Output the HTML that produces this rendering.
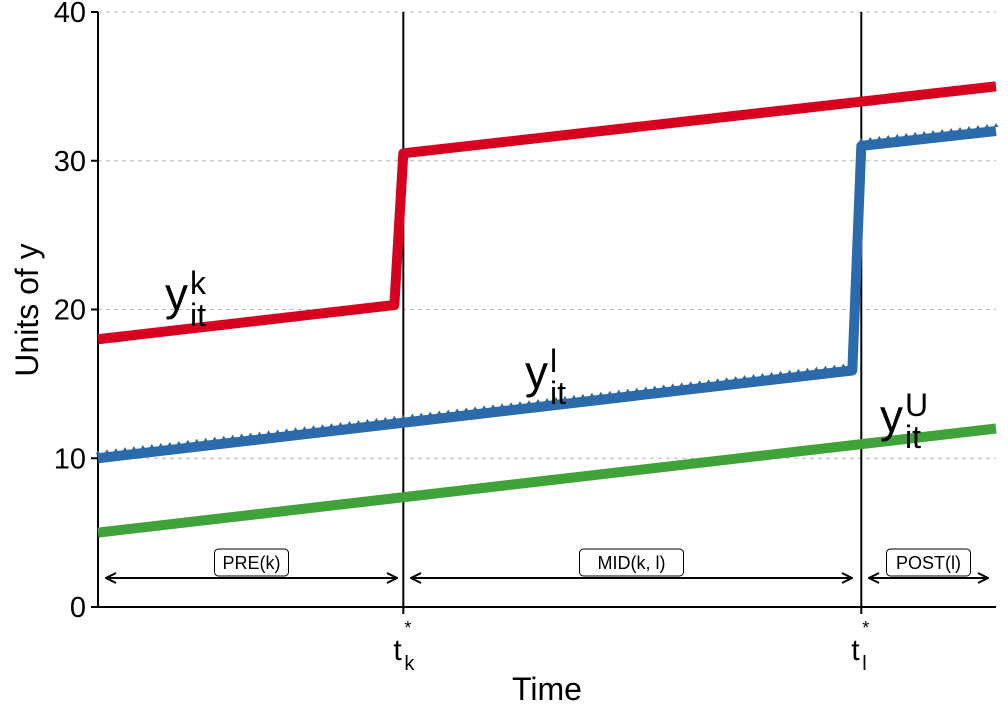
<!DOCTYPE html>
<html><head><meta charset="utf-8"><style>
body{margin:0;background:#fff}
text{font-family:"Liberation Sans",sans-serif}
</style></head><body>
<svg id="c" width="1008" height="720">
<defs><marker id="ah" viewBox="0 0 12 12" refX="11" refY="6" markerWidth="12" markerHeight="12" markerUnits="userSpaceOnUse" orient="auto-start-reverse"><path d="M1,1 L11,6 L1,11" fill="none" stroke="#000" stroke-width="2"/></marker></defs>
<g id="grid"></g><g id="axes"></g><g id="series"></g><g id="ann"></g>
</svg>
<script>
const yTicks=[0,10,20,30,40];
const redT=[0,33,34,100];
const redY=[18,20.3,30.5,35];
const blueT=[0,84,85,100];
const blueY=[10,15.9,31,32];
const greenT=[0,100];
const greenY=[5,12];
const tk=34, tl=85;
const X=t=>98+t*8.98, Y=v=>607-v*14.875;
const NS='http://www.w3.org/2000/svg';
function mk(tag,at,par,txt){const e=document.createElementNS(NS,tag);for(const k in at)e.setAttribute(k,at[k]);if(txt!=null)e.textContent=txt;document.getElementById(par).appendChild(e);return e;}
yTicks.forEach(v=>{
 if(v>0){const g=mk('line',{x1:98,x2:996,y1:Y(v),y2:Y(v),stroke:'#bbb','stroke-dasharray':'4,4'},'grid');
 
 }
 const t=mk('text',{x:86,y:Y(v)+10,'text-anchor':'end','font-size':29},'axes',v);
 
 
 mk('line',{x1:91,x2:98,y1:Y(v),y2:Y(v),stroke:'#000','stroke-width':2},'axes');
});
let a=mk('line',{x1:98,x2:98,y1:12,y2:607,stroke:'#000','stroke-width':2},'axes');


a=mk('line',{x1:98,x2:996,y1:607,y2:607,stroke:'#000','stroke-width':2},'axes');


[tk,tl].forEach((t,i)=>{const l=mk('line',{x1:X(t),x2:X(t),y1:12,y2:607,stroke:'#000','stroke-width':2},'axes');
 
 
 mk('line',{x1:X(t),x2:X(t),y1:607,y2:614,stroke:'#000','stroke-width':2},'axes');
 const tx=mk('text',{x:X(t)-10,y:660,'font-size':30},'axes','t');
 
 
 mk('text',{x:X(t)+1,y:670,'font-size':20},'axes',i?'l':'k');
 mk('text',{x:X(t)+1,y:634,'font-size':18},'axes','*');
});
let tt=mk('text',{x:547,y:700,'text-anchor':'middle','font-size':32},'axes','Time');


tt=mk('text',{x:0,y:0,'text-anchor':'middle','font-size':32,transform:'translate(38,310) rotate(-90)'},'axes','Units of y');


function series(T,V,col,name){
 const p=mk('polyline',{points:T.map((t,i)=>X(t)+','+Y(V[i])).join(' '),fill:'none',stroke:col,'stroke-width':10,'stroke-linejoin':'round'},'series');
 
 
}
series(greenT,greenY,'#3fa33a','series-y-u');
series(blueT,blueY,'#2b6aab','series-y-l');
series(redT,redY,'#d7001e','series-y-k');
for(let s=0;s<blueT.length-1;s++){if(blueT[s+1]-blueT[s]<2)continue;
 for(let t=blueT[s];t<=blueT[s+1];t+=1){const v=blueY[s]+(blueY[s+1]-blueY[s])*(t-blueT[s])/(blueT[s+1]-blueT[s]);
  const x=X(t),y=Y(v);mk('path',{d:`M${x-2.5},${y-4}L${x},${y-8}L${x+2.5},${y-4}Z`,fill:'#2b6aab'},'series');}}
function lab(x,y,sup,name){const t=mk('text',{x:x,y:y,'font-size':46},'ann','y');
 
 
 mk('text',{x:x+25,y:y-16,'font-size':32},'ann',sup);
 mk('text',{x:x+25,y:y+16,'font-size':32},'ann','it');}
lab(165,310,'k','label-y-k');lab(525,388,'l','label-y-l');lab(880,432,'U','label-y-u');
function brk(x1,x2,txt,name){const l=mk('line',{x1:x1,x2:x2,y1:578,y2:578,stroke:'#000','stroke-width':2,'marker-start':'url(#ah)','marker-end':'url(#ah)'},'ann');
 
 
 const cx=(x1+x2)/2,w=txt.length*10+14;
 const r=mk('rect',{x:cx-w/2,y:549,width:w,height:27,rx:4,fill:'#fff',stroke:'#000','stroke-width':1},'ann');
 
 
 mk('text',{x:cx,y:569,'text-anchor':'middle','font-size':18},'ann',txt);}
brk(106,397,'PRE(k)','pre');brk(411,852,'MID(k, l)','mid');brk(869,988,'POST(l)','post');
</script>
</body></html>
